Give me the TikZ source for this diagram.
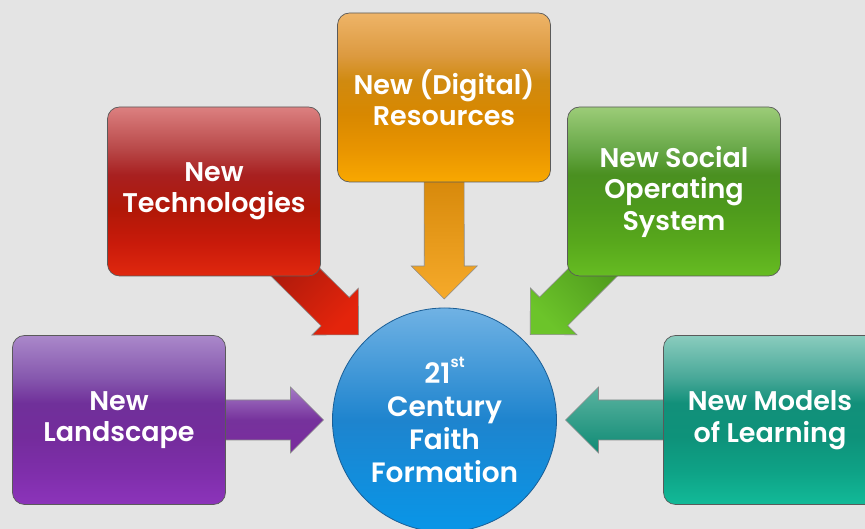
\documentclass[tikz,border=0pt]{standalone}
\usepackage{fontspec}
\setmainfont{Poppins}[BoldFont={Poppins SemiBold}]
\usetikzlibrary{calc}
\definecolor{bgc}{HTML}{E4E4E4}
\definecolor{boxline}{HTML}{5A5A5A}
\definecolor{hubline}{HTML}{1A5E96}
% red
\definecolor{rA}{HTML}{E0280E}\definecolor{rB}{HTML}{C81A0A}\definecolor{rC}{HTML}{B01808}
\definecolor{rD}{HTML}{A82020}\definecolor{rE}{HTML}{B84848}\definecolor{rF}{HTML}{DC8080}
% orange
\definecolor{oA}{HTML}{F9A800}\definecolor{oB}{HTML}{E89400}\definecolor{oC}{HTML}{D88800}
\definecolor{oD}{HTML}{D08A10}\definecolor{oE}{HTML}{DC9A40}\definecolor{oF}{HTML}{EEB468}
% green
\definecolor{gA}{HTML}{66BC22}\definecolor{gB}{HTML}{58A81C}\definecolor{gC}{HTML}{4E9A1C}
\definecolor{gD}{HTML}{4A9020}\definecolor{gE}{HTML}{68A848}\definecolor{gF}{HTML}{9CCC78}
% purple
\definecolor{pA}{HTML}{8C34BA}\definecolor{pB}{HTML}{7E2EAA}\definecolor{pC}{HTML}{742C9C}
\definecolor{pD}{HTML}{70309A}\definecolor{pE}{HTML}{8658AE}\definecolor{pF}{HTML}{AA88CA}
% teal
\definecolor{tA}{HTML}{12BA98}\definecolor{tB}{HTML}{0EA286}\definecolor{tC}{HTML}{0E927A}
\definecolor{tD}{HTML}{12907A}\definecolor{tE}{HTML}{48A898}\definecolor{tF}{HTML}{8ACCBE}
\newcommand{\glossshading}[2]{%
  \pgfdeclareverticalshading{#1}{100bp}{color(0bp)=(#2A); color(25bp)=(#2A);
    color(35bp)=(#2B); color(45bp)=(#2C); color(55bp)=(#2D); color(62.5bp)=(#2E);
    color(75bp)=(#2F); color(100bp)=(#2F)}}
\glossshading{redgloss}{r}
\glossshading{orangegloss}{o}
\glossshading{greengloss}{g}
\glossshading{purplegloss}{p}
\glossshading{tealgloss}{t}
\pgfdeclarelayer{bglayer}
\pgfdeclarelayer{arrowlayer}
\pgfsetlayers{bglayer,arrowlayer,main}
\newcommand{\blockarrow}[3]{%
  \shadedraw[arrowbody,#3] let \p1=($(#1.center)-(#2.center)$),
      \n1={atan2(\y1,\x1)}, \n2={atan2(\y1,\x1)+90}, \n3={atan2(\y1,\x1)-90} in
    ($(#2.center)+(\n1:121pt)$)
    -- ($(#2.center)+(\n1:154pt)+(\n2:33pt)$)
    -- ($(#2.center)+(\n1:154pt)+(\n2:20pt)$)
    -- ($(#2.center)+(\n1:245pt)+(\n2:20pt)$)
    -- ($(#2.center)+(\n1:245pt)+(\n3:20pt)$)
    -- ($(#2.center)+(\n1:154pt)+(\n3:20pt)$)
    -- ($(#2.center)+(\n1:154pt)+(\n3:33pt)$)
    -- cycle;}
\begin{document}
\begin{tikzpicture}[x=1pt,y=1pt,
  box/.style={rectangle, rounded corners=12pt, minimum width=213pt,
    minimum height=169pt, draw=boxline, line width=0.7pt, text=white,
    font=\bfseries\fontsize{27}{31.5}\selectfont, align=center, inner sep=0pt},
  redbox/.style={shade, shading=redgloss},
  orangebox/.style={shade, shading=orangegloss},
  greenbox/.style={shade, shading=greengloss},
  purplebox/.style={shade, shading=purplegloss},
  tealbox/.style={shade, shading=tealgloss},
  hub/.style={circle, minimum size=224pt, inner sep=0pt, draw=hubline,
    line width=0.8pt, text=white, align=center,
    font=\bfseries\fontsize{28}{33}\selectfont,
    top color={rgb,255:red,112;green,178;blue,228},
    bottom color={rgb,255:red,8;green,150;blue,232},
    middle color={rgb,255:red,30;green,132;blue,206}},
  arrowbody/.style={draw=black!45, line width=0.6pt}]
\useasboundingbox (0,0) rectangle (865,529);
\begin{pgfonlayer}{bglayer}
  \fill[bgc] (0,0) rectangle (865,529);
\end{pgfonlayer}
\clip (0,0) rectangle (865,529);
\node[box, redbox] (tech) at (214,337.5) {New\\Technologies};
\node[box, orangebox] (digi) at (444,431.5) {New (Digital)\\Resources};
\node[box, greenbox] (social) at (674,337.5) {New Social\\Operating\\System};
\node[box, purplebox] (land) at (119,109) {New\\Landscape};
\node[box, tealbox] (models) at (770,109) {New Models\\of Learning};
\node[hub] (faith) at (444.5,109)
  {21\raisebox{0.55em}{\fontsize{15}{15}\selectfont st}\\Century\\Faith\\Formation};
\begin{pgfonlayer}{arrowlayer}
  \blockarrow{land}{faith}{top color={rgb,255:red,165;green,123;blue,198},
    bottom color={rgb,255:red,122;green,44;blue,158},
    middle color={rgb,255:red,118;green,50;blue,156}}
  \blockarrow{models}{faith}{top color={rgb,255:red,91;green,179;blue,160},
    bottom color={rgb,255:red,14;green,138;blue,116}}
  \blockarrow{digi}{faith}{top color={rgb,255:red,214;green,136;blue,10},
    bottom color={rgb,255:red,246;green,170;blue,42}}
  \blockarrow{tech}{faith}{top color={rgb,255:red,160;green,24;blue,12},
    bottom color={rgb,255:red,228;green,36;blue,12}, shading angle=45}
  \blockarrow{social}{faith}{top color={rgb,255:red,72;green,144;blue,26},
    bottom color={rgb,255:red,108;green,196;blue,42}, shading angle=-45}
\end{pgfonlayer}
\end{tikzpicture}
\end{document}
